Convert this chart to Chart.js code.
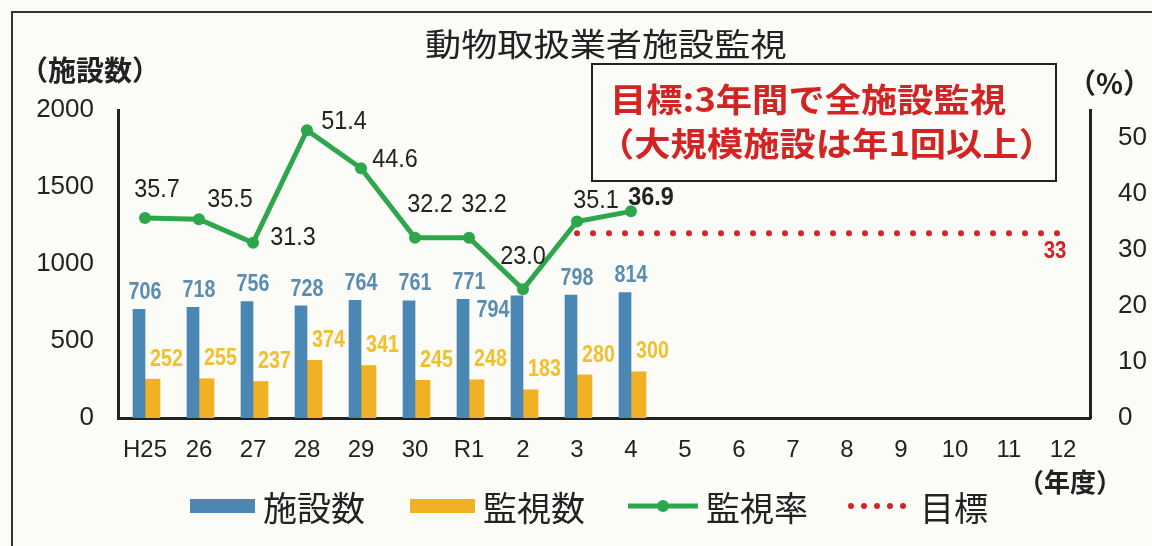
<!DOCTYPE html>
<html>
<head>
<meta charset="utf-8">
<script src="https://cdn.jsdelivr.net/npm/chart.js@4"></script>
<style>
body { margin: 0; background: #fbfbf7; }
#wrap { position: relative; width: 1152px; height: 546px; overflow: hidden; font-family: "Noto Sans CJK JP", sans-serif; }
#frame { position: absolute; left: 11px; top: 11px; width: 1200px; height: 600px; border: 2px solid #333; }
#chart { position: absolute; left: 0; top: 0; }
.txt { position: absolute; white-space: nowrap; color: #222; line-height: 1; }
#title { left: 425px; top: 26px; font-size: 32px; transform-origin: 0 0; transform: scaleX(1.13); }
#goalBox { position: absolute; left: 591px; top: 63px; width: 462px; height: 115px; border: 2px solid #222; }
.goal { color: #d42323; font-weight: bold; font-size: 33px; transform-origin: 0 0; transform: scaleX(1.1); }
.leg { position: absolute; top: 486px; height: 40px; display: flex; align-items: center; font-size: 34px; color: #222; }
.sw { display: inline-block; margin-right: 8px; }
</style>
</head>
<body>
<div id="wrap">
  <div id="frame"></div>
  <canvas id="chart" width="1152" height="546"></canvas>
  <div class="txt" id="title">動物取扱業者施設監視</div>
  <div class="txt" style="left:20px;top:55px;font-size:28px;font-weight:bold;">（施設数）</div>
  <div class="txt" style="left:1068px;top:68px;font-size:28px;font-weight:bold;">（%）</div>
  <div class="txt" style="left:1018px;top:468px;font-size:26px;font-weight:bold;">（年度）</div>
  <div id="goalBox"></div>
  <div class="txt goal" style="left:610px;top:82px;">目標:3年間で全施設監視</div>
  <div class="txt goal" style="left:598px;top:126px;">（大規模施設は年1回以上）</div>
  <div class="leg" style="left:190px;"><span class="sw" style="width:65px;height:14px;background:#4a87b5;"></span>施設数</div>
  <div class="leg" style="left:410px;"><span class="sw" style="width:65px;height:14px;background:#f0b224;"></span>監視数</div>
  <div class="leg" style="left:628px;"><canvas class="sw" id="legLine" width="70" height="20"></canvas>監視率</div>
  <div class="leg" style="left:846px;"><canvas class="sw" id="legDots" width="66" height="20"></canvas>目標</div>
</div>
<script>
const years = ['H25', '26', '27', '28', '29', '30', 'R1', '2', '3', '4', '5', '6', '7', '8', '9', '10', '11', '12'];
const facilities = [706, 718, 756, 728, 764, 761, 771, 794, 798, 814];
const inspections = [252, 255, 237, 374, 341, 245, 248, 183, 280, 300];
const inspectionRate = [35.7, 35.5, 31.3, 51.4, 44.6, 32.2, 32.2, 23.0, 35.1, 36.9];
const goalRate = [null, null, null, null, null, null, null, null, 33, 33, 33, 33, 33, 33, 33, 33, 33, 33];
const countTicks = [0, 500, 1000, 1500, 2000];
const rateTicks = [0, 10, 20, 30, 40, 50];

const BLUE = '#4a87b5';
const ORANGE = '#f0b224';
const GREEN = '#2ea64c';
const RED = '#d42323';

// where each rate label sits relative to its point
const rateLabelOffsets = [[12, -28], [31, -19], [40, -5], [37, -8], [34, -8], [15, -33], [15, -33], [0, -32], [19, -21], [20, -14]];

function drawText(ctx, text, x, y, font, color, squeeze) {
    ctx.save();
    ctx.font = font;
    ctx.fillStyle = color;
    ctx.textAlign = 'center';
    ctx.textBaseline = 'middle';
    ctx.translate(x, y);
    ctx.scale(squeeze, 1);
    ctx.fillText(text, 0, 0);
    ctx.restore();
}

const labelPlugin = {
    id: 'labels',
    afterDatasetsDraw(chart) {
        const ctx = chart.ctx;
        const blueBars = chart.getDatasetMeta(0).data;
        const orangeBars = chart.getDatasetMeta(1).data;
        const points = chart.getDatasetMeta(2).data;
        const goalPts = chart.getDatasetMeta(3).data;

        blueBars.forEach((bar, i) => {
            let x = bar.x + 6, y = bar.y - 17;
            if (i === 7) { x = bar.x - 24; y = bar.y + 15; }
            drawText(ctx, facilities[i], x, y, 'bold 24px "Liberation Sans"', '#5b8db3', 0.82);
        });
        orangeBars.forEach((bar, i) => {
            drawText(ctx, inspections[i], bar.x + 14, bar.y - 20, 'bold 24px "Liberation Sans"', '#f2c02c', 0.82);
        });
        points.forEach((pt, i) => {
            const off = rateLabelOffsets[i];
            const bold = i === points.length - 1 ? 'bold ' : '';
            drawText(ctx, inspectionRate[i].toFixed(1), pt.x + off[0], pt.y + off[1], bold + '26px "Liberation Sans"', '#222', 0.9);
        });
        const last = goalPts[goalPts.length - 1];
        drawText(ctx, '33', last.x - 8, last.y + 18, 'bold 24px "Liberation Sans"', RED, 0.85);
    }
};

const ctx = document.getElementById('chart').getContext('2d');
new Chart(ctx, {
    data: {
        labels: years,
        datasets: [
            { type: 'bar', label: '施設数', data: facilities, backgroundColor: BLUE, yAxisID: 'y', barThickness: 12, order: 3 },
            { type: 'bar', label: '監視数', data: inspections, backgroundColor: ORANGE, yAxisID: 'y', barThickness: 15, order: 3 },
            { type: 'line', label: '監視率', data: inspectionRate, borderColor: GREEN, backgroundColor: GREEN, borderWidth: 5,
              pointRadius: 6, pointBorderWidth: 0, yAxisID: 'y1', order: 1 },
            { type: 'line', label: '目標', data: goalRate, borderColor: RED, borderWidth: 6, borderDash: [0, 16],
              borderCapStyle: 'round', pointRadius: 0, yAxisID: 'y1', order: 2 }
        ]
    },
    options: {
        responsive: false,
        animation: false,
        layout: { padding: { top: 110, left: 0, right: 0, bottom: 0 } },
        plugins: {
            legend: { display: false },
            tooltip: { enabled: false }
        },
        scales: {
            x: {
                grid: { display: false },
                border: { display: true, color: '#222', width: 3 },
                ticks: { color: '#222', font: { family: 'Liberation Sans', size: 24 }, padding: 10, maxRotation: 0, autoSkip: false },
                afterFit: function(scale) { scale.height = 128; }
            },
            y: {
                position: 'left',
                min: 0,
                max: 2000,
                grid: { display: false },
                border: { display: true, color: '#222', width: 3 },
                afterBuildTicks: function(scale) { scale.ticks = countTicks.map(v => ({ value: v })); },
                ticks: { color: '#222', font: { family: 'Liberation Sans', size: 26 }, padding: 16,
                         callback: function(value) { return String(value); } },
                afterFit: function(scale) { scale.width = 118; }
            },
            y1: {
                position: 'right',
                min: 0,
                max: 55,
                grid: { display: false },
                border: { display: true, color: '#222', width: 3 },
                afterBuildTicks: function(scale) { scale.ticks = rateTicks.map(v => ({ value: v })); },
                ticks: { color: '#222', font: { family: 'Liberation Sans', size: 26 }, padding: 20,
                         callback: function(value) { return String(value); } },
                afterFit: function(scale) { scale.width = 62; }
            }
        }
    },
    plugins: [labelPlugin]
});

// legend swatches
const lc = document.getElementById('legLine').getContext('2d');
lc.strokeStyle = GREEN; lc.lineWidth = 5;
lc.beginPath(); lc.moveTo(0, 10); lc.lineTo(70, 10); lc.stroke();
lc.fillStyle = GREEN; lc.beginPath(); lc.arc(35, 10, 6, 0, Math.PI * 2); lc.fill();
const dc = document.getElementById('legDots').getContext('2d');
dc.fillStyle = RED;
for (let i = 0; i < 5; i++) { dc.beginPath(); dc.arc(5 + i * 13, 10, 3, 0, Math.PI * 2); dc.fill(); }
</script>
</body>
</html>
